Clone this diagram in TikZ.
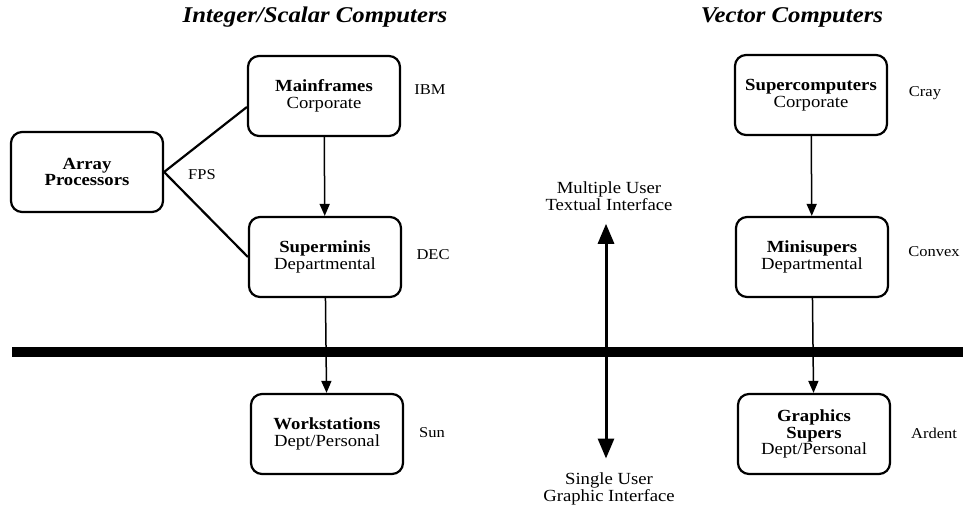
\documentclass[tikz,border=0pt]{standalone}
\usepackage{fontspec}
\setmainfont{Liberation Serif}[FakeStretch=1.1]
\usetikzlibrary{arrows.meta}

\tikzset{
  comp/.style={draw, line width=2.2pt, rounded corners=11pt, minimum width=152pt,
    minimum height=80pt, align=center, inner sep=2pt,
    font=\fontsize{17}{16.5}\selectfont},
  maker/.style={font=\fontsize{15}{16}\selectfont},
  heading/.style={font=\fontsize{22.5}{26}\selectfont\bfseries\itshape},
  flow/.style={-{Triangle[length=12pt,width=10pt]}, line width=1.5pt},
  link/.style={line width=2.2pt},
}

\begin{document}
\begin{tikzpicture}[x=1pt,y=-1pt]
  \useasboundingbox (0,0) rectangle (963,509);

  % column headings
  \node[heading] (hscalar) at (315,17) {Integer/Scalar Computers};
  \node[heading] (hvector) at (792,17) {Vector Computers};

  % integer / scalar side
  \node[comp] (main)   at (324,96)  {\textbf{Mainframes}\\Corporate};
  \node[comp] (array)  at (87,172)  {\textbf{Array}\\\textbf{Processors}};
  \node[comp] (supmin) at (325,257) {\textbf{Superminis}\\Departmental};
  \node[comp] (work)   at (327,434) {\textbf{Workstations}\\Dept/Personal};

  \node[maker] (ibm) at (430,90)  {IBM};
  \node[maker] (fps) at (202,175) {FPS};
  \node[maker] (dec) at (433,255) {DEC};
  \node[maker] (sun) at (432,433) {Sun};

  % vector side
  \node[comp] (super)   at (811,95)  {\textbf{Supercomputers}\\Corporate};
  \node[comp] (minisup) at (812,257) {\textbf{Minisupers}\\Departmental};
  \node[comp] (gfx)     at (814,434) {\textbf{Graphics}\\\textbf{Supers}\\Dept/Personal};

  \node[maker] (cray)   at (925,93)  {Cray};
  \node[maker] (convex) at (934,252) {Convex};
  \node[maker] (ardent) at (934,433) {Ardent};

  % dividing bar
  \draw[line width=9.5pt] (12,352) -- (963,352);

  % interface axis
  \node[align=center, font=\fontsize{17}{16.5}\selectfont] (multi) at (609,196)
    {Multiple User\\Textual Interface};
  \node[align=center, font=\fontsize{17}{16.5}\selectfont] (single) at (609,489)
    {Single User\\Graphic Interface};
  \draw[{Triangle[length=20pt,width=16pt]}-{Triangle[length=20pt,width=16pt]}, line width=3pt]
    ([xshift=-3pt,yshift=-10pt]multi.south) -- ([xshift=-3pt,yshift=11pt]single.north);

  % connections
  \draw[link] (array.east) -- ([yshift=-11pt]main.west);
  \draw[link] (array.east) -- (supmin.west);
  \draw[flow] (main) -- (supmin);
  \draw[flow] (supmin) -- (work);
  \draw[flow] (super) -- (minisup);
  \draw[flow] (minisup) -- (gfx);
\end{tikzpicture}
\end{document}
